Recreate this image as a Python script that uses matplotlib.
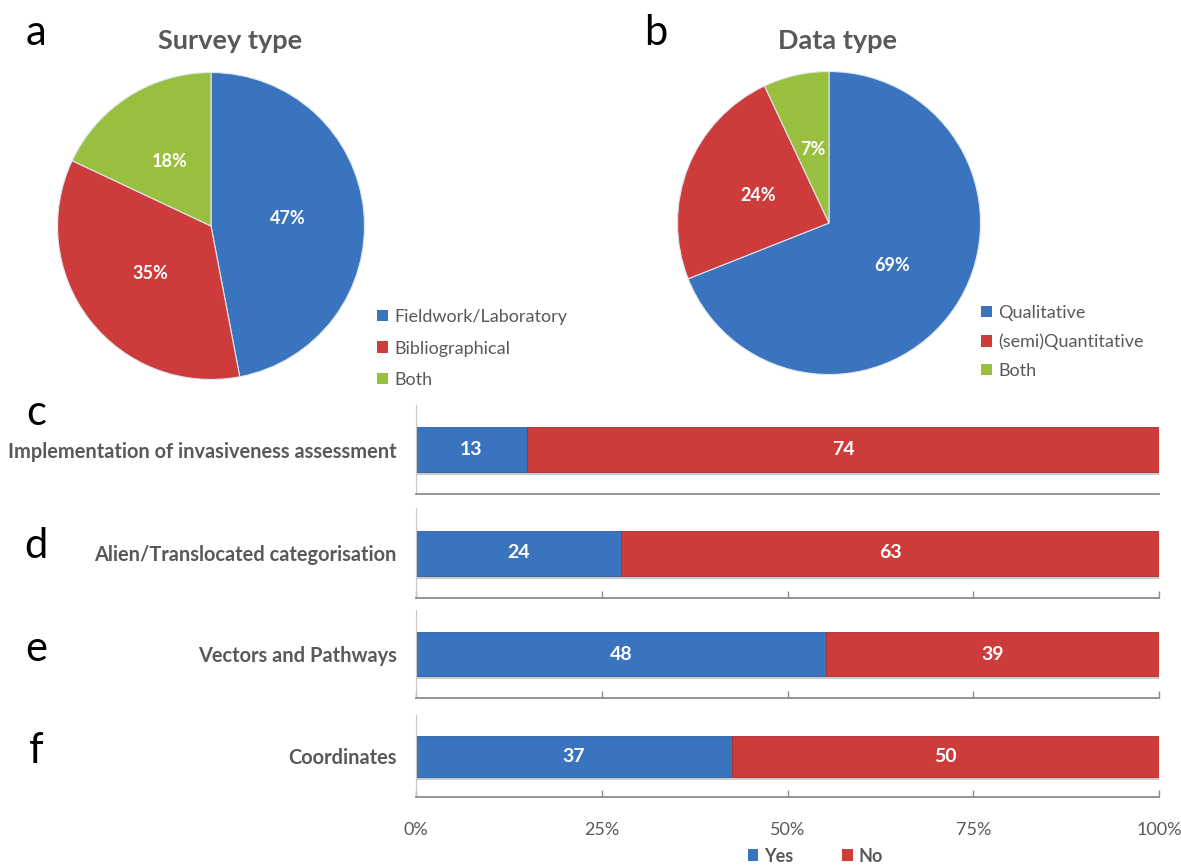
import matplotlib
matplotlib.use("Agg")
import matplotlib.pyplot as plt
from matplotlib.patches import Patch
import matplotlib.patheffects as pe

plt.rcParams['font.family'] = ['Lato', 'DejaVu Sans']

# ---- data ----
survey_labels = ['Fieldwork/Laboratory', 'Bibliographical', 'Both']
survey_pct = [47, 35, 18]
data_labels = ['Qualitative', '(semi)Quantitative', 'Both']
data_pct = [69, 24, 7]
bar_categories = ['Implementation of invasiveness assessment',
                  'Alien/Translocated categorisation',
                  'Vectors and Pathways',
                  'Coordinates']
yes_counts = [13, 24, 48, 37]
no_counts = [74, 63, 39, 50]
panel_letters = ['c', 'd', 'e', 'f']
x_ticks = [0, 25, 50, 75, 100]
x_ticklabels = ['0%', '25%', '50%', '75%', '100%']
series_names = ['Yes', 'No']

BLUE = '#3A74BF'
RED = '#CD3B3B'
GREEN = '#99BF3F'
GRAY = '#595959'

W, H = 1181, 866
fig = plt.figure(figsize=(W / 100, H / 100), dpi=100)

shadow = [pe.SimplePatchShadow(offset=(0, -2.5), shadow_rgbFace='#999999', alpha=0.5), pe.Normal()]


def px_axes(left, top, right, bottom):
    return fig.add_axes([left / W, 1 - bottom / H, (right - left) / W, (bottom - top) / H])


def pie_panel(box, values, labels, title, title_x, legend_anchor):
    ax = px_axes(*box)
    wedges, texts, autotexts = ax.pie(
        values, colors=[BLUE, RED, GREEN], startangle=90, counterclock=False,
        autopct=lambda p: f'{p:.0f}%', pctdistance=0.5,
        wedgeprops=dict(edgecolor='#dfe6ee', linewidth=0.8),
        textprops=dict(color='white', fontsize=13, fontweight='bold'))
    ax.set_xlim(-1.01, 1.01)
    ax.set_ylim(-1.01, 1.01)
    ax.set_aspect('equal')
    fig.text(title_x / W, 1 - 41 / H, title, ha='center', va='center',
             fontsize=19.5, fontweight='bold', color=GRAY)
    handles = [Patch(facecolor=c, edgecolor='none') for c in [BLUE, RED, GREEN]]
    fig.legend(handles, labels, loc='upper left',
               bbox_to_anchor=(legend_anchor[0] / W, 1 - legend_anchor[1] / H),
               frameon=False, fontsize=13, labelcolor=GRAY,
               handlelength=0.6, handleheight=0.6, handletextpad=0.35,
               labelspacing=legend_anchor[2], borderpad=0, borderaxespad=0)


pie_panel((56, 71, 366, 381), survey_pct, survey_labels, 'Survey type', 230,
          (377, 309, 0.86))
pie_panel((676, 70, 982, 376), data_pct, data_labels, 'Data type', 838,
          (981, 305, 0.70))

fig.text(36 / W, 1 - 33 / H, 'a', fontsize=30, ha='center', va='center', color='black')
fig.text(656 / W, 1 - 33 / H, 'b', fontsize=30, ha='center', va='center', color='black')

tops = [405, 508, 610, 715]
bottoms = [494, 598, 698, 797]
letter_y = [413, 546, 649, 751]

for i, cat in enumerate(bar_categories):
    ax = px_axes(416, tops[i], 1159, bottoms[i])
    total = yes_counts[i] + no_counts[i]
    yp = yes_counts[i] / total * 100
    npct = no_counts[i] / total * 100
    b1 = ax.barh(0.5, yp, height=0.5, color=BLUE, edgecolor='#2d5f9e', linewidth=0.6)
    b2 = ax.barh(0.5, npct, left=yp, height=0.5, color=RED, edgecolor='#a33030', linewidth=0.6)
    for p in list(b1) + list(b2):
        p.set_path_effects(shadow)
    ax.text(yp / 2, 0.5, str(yes_counts[i]), ha='center', va='center',
            color='white', fontsize=14, fontweight='bold')
    ax.text(yp + npct / 2, 0.5, str(no_counts[i]), ha='center', va='center',
            color='white', fontsize=14, fontweight='bold')
    ax.set_xlim(0, 100)
    ax.set_ylim(0, 1)
    for s in ['top', 'right']:
        ax.spines[s].set_visible(False)
    ax.spines['left'].set_color('#c8c8c8')
    ax.spines['bottom'].set_color('#8c8c8c')
    ax.spines['bottom'].set_linewidth(1.3)
    ax.set_yticks([0.5])
    ax.set_yticklabels([cat], fontsize=14.4, fontweight='bold', color=GRAY)
    ax.tick_params(axis='y', length=0, pad=14)
    if i == 0:
        ax.set_xticks([])
    else:
        ax.set_xticks(x_ticks)
        ax.tick_params(axis='x', direction='in', length=5, color='#8c8c8c', width=1)
        if i == len(bar_categories) - 1:
            ax.set_xticklabels(x_ticklabels, fontsize=13, color=GRAY)
            ax.tick_params(axis='x', pad=18)
        else:
            ax.set_xticklabels([])
    fig.text(36 / W, 1 - letter_y[i] / H, panel_letters[i], fontsize=30,
             ha='center', va='center', color='black')

handles = [Patch(facecolor=BLUE, edgecolor='none'), Patch(facecolor=RED, edgecolor='none')]
leg = fig.legend(handles, series_names, loc='center', bbox_to_anchor=(815 / W, 1 - 856 / H),
                 ncol=2, frameon=False, fontsize=13, labelcolor=GRAY,
                 handlelength=0.6, handleheight=0.6, handletextpad=0.3,
                 columnspacing=2.7, borderpad=0, borderaxespad=0)
for t in leg.get_texts():
    t.set_fontweight('bold')

fig.savefig('out.png', dpi=100)
